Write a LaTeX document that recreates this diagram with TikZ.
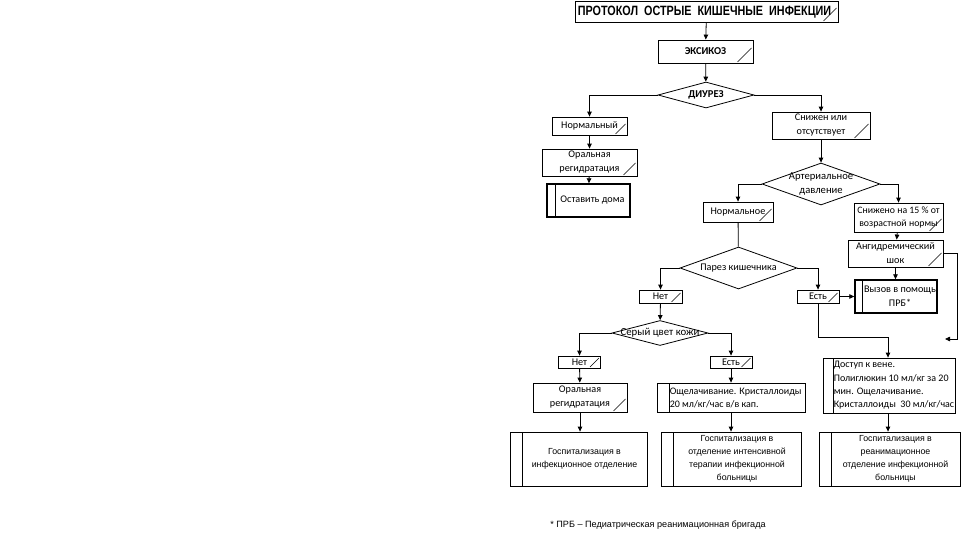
\documentclass[tikz,border=0pt]{standalone}
\usepackage{fontspec}
\setmainfont{Carlito}
\newfontfamily\arialf{Liberation Sans}
\usetikzlibrary{shapes.geometric,arrows.meta}
\tikzset{
  every node/.style={font=\fontsize{10.2}{14}\selectfont},
  base/.style={draw, line width=0.8pt, rectangle, inner sep=0pt},
  box/.style={base, align=center, path picture={\draw[line width=0.6pt]
      ([xshift=-#1-1.5pt,yshift=1pt]path picture bounding box.south east) --
      ([xshift=-1.5pt,yshift=#1+1pt]path picture bounding box.south east);}},
  box/.default=10pt,
  pp/.style={base, path picture={\draw[line width=0.8pt]
      ([xshift=#1]path picture bounding box.north west) --
      ([xshift=#1]path picture bounding box.south west);}},
  thickbox/.style={line width=1.4pt},
  dia/.style={draw, diamond, line width=0.8pt, inner sep=0pt},
  txt/.style={inner sep=0pt, align=center},
  ltxt/.style={inner sep=0pt, align=left, anchor=west},
  htxt/.style={txt, font=\arialf\fontsize{8.8}{13}\selectfont},
  arr/.style={line width=0.8pt, -{Triangle[length=5pt,width=4.5pt]}},
  ln/.style={line width=0.8pt},
}
\begin{document}
\begin{tikzpicture}[x=1pt,y=-1pt]
\useasboundingbox (0,0) rectangle (963,535);

% top
\node[box=13pt, minimum width=263pt, minimum height=21pt] (title) at (706.5,11.5) {};
\node[txt, font=\arialf\fontsize{13.5}{16}\selectfont\bfseries] (titlet) at ([xshift=-2pt,yshift=-0.5pt]title.center) {\scalebox{0.8}[1]{ПРОТОКОЛ\ \ ОСТРЫЕ\ \ КИШЕЧНЫЕ\ \ ИНФЕКЦИИ}};
\node[box=14pt, minimum width=95pt, minimum height=23pt, font=\fontsize{10.5}{12}\selectfont\bfseries] (exs) at (705.5,51.5) {ЭКСИКОЗ};
\node[dia, minimum width=96pt, minimum height=26pt] (diur) at (706,95) {};
\node[txt, font=\fontsize{10.5}{12}\selectfont\bfseries] (diurt) at (diur.center) {ДИУРЕЗ};

% left branch
\node[box=10pt, minimum width=75pt, minimum height=18pt] (norm1) at (589.5,126) {Нормальный};
\node[box=12pt, minimum width=95pt, minimum height=27pt] (oral1) at (589.5,162.5) {Оральная\\регидратация};
\node[pp=8pt, thickbox, minimum width=83pt, minimum height=33pt] (stay) at (588.5,200.5) {};
\node[txt] (stayt) at ([xshift=4pt]stay.center) {Оставить дома};

% right branch
\node[box=14pt, minimum width=98pt, minimum height=27pt] (snij) at (821,125.5) {Снижен или\\отсутствует};
\node[dia, minimum width=118pt, minimum height=42pt] (art) at (821,184) {};
\node[txt, font=\fontsize{10.6}{14}\selectfont] (artt) at (art.center) {Артериальное\\давление};
\node[box=12pt, minimum width=70pt, minimum height=20pt] (norm2) at (738,212) {Нормальное};
\node[box=12pt, minimum width=89pt, minimum height=29pt, font=\fontsize{9.8}{13.5}\selectfont] (sn15) at (898.5,217.5) {Снижено на 15 \% от\\возрастной нормы};
\node[box=13pt, minimum width=95pt, minimum height=27pt] (shock) at (895.5,253.5) {Ангидремический\\шок};
\node[pp=7pt, thickbox, minimum width=82pt, minimum height=33pt] (call) at (896,296.5) {};
\node[txt] (callt) at ([xshift=4pt]call.center) {Вызов в помощь\\ПРБ*};

\node[dia, minimum width=117pt, minimum height=42pt] (parez) at (738.5,268) {};
\node[txt] (parezt) at (parez.center) {Парез кишечника};
\node[box=9pt, minimum width=43pt, minimum height=13pt] (net1) at (660.5,296.5) {Нет};
\node[box=9pt, minimum width=42pt, minimum height=13pt] (est1) at (818,296.5) {Есть};

\node[dia, minimum width=96pt, minimum height=25pt] (grey) at (660,333) {};
\node[txt, font=\fontsize{10.8}{13}\selectfont] (greyt) at (grey.center) {Серый цвет кожи};
\node[box=9pt, minimum width=42pt, minimum height=12pt] (net2) at (579.5,362) {Нет};
\node[box=9pt, minimum width=42pt, minimum height=12pt] (est2) at (731,362) {Есть};

\node[box=12pt, minimum width=94pt, minimum height=29pt] (oral2) at (580,397.5) {Оральная\\регидратация};
\node[pp=12pt, minimum width=148pt, minimum height=29pt] (alk) at (731,397.5) {};
\node[ltxt, font=\fontsize{10}{13}\selectfont] (alkt) at ([xshift=13pt]alk.west) {Ощелачивание. Кристаллоиды\\20 мл/кг/час в/в кап.};
\node[pp=10pt, minimum width=132pt, minimum height=55pt] (access) at (889,385.5) {};
\node[ltxt, font=\fontsize{10}{13.4}\selectfont] (accesst) at ([xshift=11pt]access.west) {Доступ к вене.\\Полиглюкин 10 мл/кг за 20\\мин. Ощелачивание.\\Кристаллоиды\ \ 30 мл/кг/час};

\node[pp=12pt, minimum width=137pt, minimum height=54pt] (hosp1) at (578.5,459) {};
\node[htxt] (hosp1t) at ([xshift=6pt]hosp1.center) {Госпитализация в\\инфекционное отделение};
\node[pp=12pt, minimum width=140pt, minimum height=54pt] (hosp2) at (731,459) {};
\node[htxt] (hosp2t) at ([xshift=6pt]hosp2.center) {Госпитализация в\\отделение интенсивной\\терапии инфекционной\\больницы};
\node[pp=12pt, minimum width=141pt, minimum height=54pt] (hosp3) at (889.5,459) {};
\node[htxt] (hosp3t) at ([xshift=6pt]hosp3.center) {Госпитализация в\\реанимационное\\отделение инфекционной\\больницы};

\node[txt, font=\arialf\fontsize{9.1}{11}\selectfont] (foot) at (658,525) {* ПРБ – Педиатрическая реанимационная бригада};

% helper coordinates
\coordinate (j1) at (818,337);
\coordinate (s1) at (957,253.5);
\coordinate (s2) at (957,339);
\coordinate (s3) at (945,339);

% connectors
\draw[arr] (title) -- (exs);
\draw[arr] (exs) -- (diur);
\draw[arr] (diur.west) -| (norm1.north);
\draw[arr] (diur.east) -| (snij.north);
\draw[arr] (norm1) -- (oral1);
\draw[arr] (oral1) -- (stay);
\draw[arr] (snij) -- (art);
\draw[arr] (art.west) -| (norm2.north);
\draw[arr] (art.east) -| (sn15.north);
\draw[arr] (sn15) -- (shock);
\draw[arr] (shock.south) -- (shock.south |- call.north);
\draw[ln] (norm2) -- (parez);
\draw[arr] (parez.west) -| (net1.north);
\draw[arr] (parez.east) -| (est1.north);
\draw[arr] (est1) -- (call);
\draw[arr] (est1.south) -- (j1) -| ([xshift=-1pt]access.north);
\draw[arr] (shock.east) -- (s1) -- (s2) -- (s3);
\draw[arr] (net1) -- (grey);
\draw[arr] (grey.west) -| (net2.north);
\draw[arr] (grey.east) -| (est2.north);
\draw[arr] (net2) -- (oral2);
\draw[arr] (est2) -- (alk);
\draw[arr] (oral2.south) -- (oral2.south |- hosp1.north);
\draw[arr] (alk) -- (hosp2);
\draw[arr] ([xshift=-1pt]access.south) -- ([xshift=-1pt]access.south |- hosp3.north);
\end{tikzpicture}
\end{document}
